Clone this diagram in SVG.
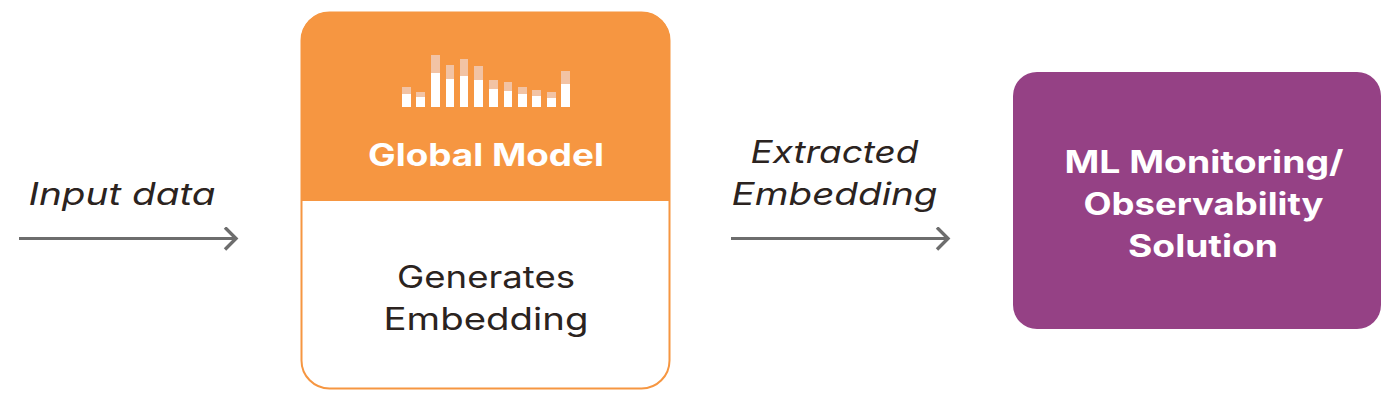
<svg xmlns="http://www.w3.org/2000/svg" width="1400" height="406" viewBox="0 0 1400 406">
<style>
text{font-family:"Inter","Liberation Sans",sans-serif;font-size:31px;text-anchor:middle;fill:#2b2320}
.i{font-style:italic;font-weight:400}
.w{fill:#fff;font-weight:700}
.c{stroke:#6d6d6d;stroke-width:3;fill:none}
.l{fill:#f2c3a4}
.b{fill:#fff}
</style>
<defs><marker id="a" markerUnits="userSpaceOnUse" markerWidth="20" markerHeight="28" refX="14" refY="12" orient="auto"><path d="M2 1L13 12L2 23" fill="none" stroke="#6d6d6d" stroke-width="3.4"/></marker></defs>
<rect width="1400" height="406" fill="#fff"/>
<g id="input-label"><text class="i" x="122" y="205" textLength="187" lengthAdjust="spacingAndGlyphs">Input data</text></g>
<g id="global-model">
<rect x="301.500" y="12.500" width="368" height="376" rx="28" fill="#fff" stroke="#f69641" stroke-width="2"/>
<path d="M301 201V40A28 28 0 0 1 329 12H642A28 28 0 0 1 670 40V201Z" fill="#f69641"/>
<path class="l" d="M402 87h9v20h-9zM416 92h9v15h-9zM431 55h9v52h-9zM446 65h8v42h-8zM460 59h8v48h-8zM474 66h9v41h-9zM489 80h9v27h-9zM504 82h8v25h-8zM518 87h9v20h-9zM532 90h9v17h-9zM547 92h9v15h-9zM561 71h9v36h-9z"/>
<path class="b" d="M402 94h9v13h-9zM416 97h9v10h-9zM431 73h9v34h-9zM446 79h8v28h-8zM460 76h8v31h-8zM474 80h9v27h-9zM489 89h9v18h-9zM504 91h8v16h-8zM518 94h9v13h-9zM532 96h9v11h-9zM547 98h9v9h-9zM561 84h9v23h-9z"/>
<text class="w" x="486" y="166" textLength="236" lengthAdjust="spacingAndGlyphs">Global Model</text>
<text x="486" y="288" textLength="178" lengthAdjust="spacingAndGlyphs">Generates</text>
<text x="486" y="330" textLength="205" lengthAdjust="spacingAndGlyphs">Embedding</text>
</g>
<g id="extracted-label">
<text class="i" x="834.500" y="163" textLength="168" lengthAdjust="spacingAndGlyphs">Extracted</text>
<text class="i" x="834.500" y="205" textLength="206" lengthAdjust="spacingAndGlyphs">Embedding</text>
</g>
<g id="ml-solution">
<rect x="1013" y="72" width="368" height="257" rx="24" fill="#954185"/>
<text class="w" x="1204" y="173" textLength="279" lengthAdjust="spacingAndGlyphs">ML Monitoring/</text>
<text class="w" x="1203.500" y="215" textLength="240" lengthAdjust="spacingAndGlyphs">Observability</text>
<text class="w" x="1203" y="257" textLength="150" lengthAdjust="spacingAndGlyphs">Solution</text>
</g>
<g id="connectors">
<path class="c" d="M19 238.500H237" marker-end="url(#a)"/>
<path class="c" d="M731 238.500H949" marker-end="url(#a)"/>
</g>
</svg>
